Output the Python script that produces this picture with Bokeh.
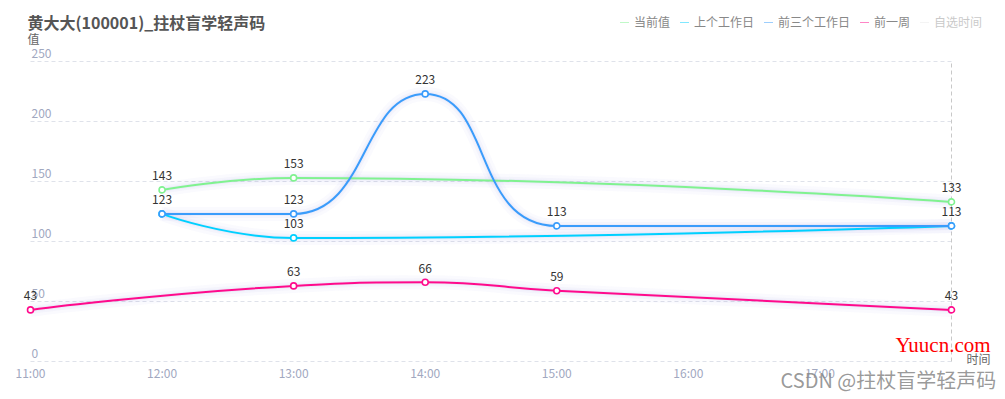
from math import hypot
from bokeh.plotting import figure
from bokeh.models import Range1d, Label, Legend, LegendItem
from bokeh.core.properties import value
from bokeh.embed import file_html
from bokeh.resources import INLINE

# ---------------- data ----------------
title_text = "黄大大(100001)_拄杖盲学轻声码"
x_tick_labels = ["11:00", "12:00", "13:00", "14:00", "15:00", "16:00", "17:00"]
y_ticks = [0, 50, 100, 150, 200, 250]

series_names = ["当前值", "上个工作日", "前三个工作日", "前一周", "自选时间"]
series_colors = ["#80f290", "#00d0ff", "#3a9cfb", "#ff0a8c", "#cccccc"]

cur_times = ["12:00", "13:00", "18:00"]
cur_vals = [143, 153, 133]
last_times = ["12:00", "13:00", "18:00"]
last_vals = [123, 103, 113]
three_times = ["12:00", "13:00", "14:00", "15:00", "18:00"]
three_vals = [123, 123, 223, 113, 113]
week_times = ["11:00", "13:00", "14:00", "15:00", "18:00"]
week_vals = [43, 63, 66, 59, 43]

CJK = "Noto Sans CJK SC"


def hours(t):
    h, m = t.split(":")
    return int(h) + int(m) / 60.0


# canvas / plotting-area geometry (pixels)
W, H = 998, 395
PL, PR, PT, PB = 30, 951, 61, 361          # plotting area edges on the canvas
X0, X1 = 11, 18
Y0, Y1 = 0, 250
KX = (PR - PL) / (X1 - X0)
KY = (PB - PT) / (Y1 - Y0)


def smooth_segments(xs, ys, smooth=0.5):
    """ECharts-style smoothed polyline -> cubic bezier segments (data units)."""
    px = [x * KX for x in xs]
    py = [y * KY for y in ys]
    n = len(px)
    segs = []
    cpx0, cpy0 = px[0], py[0]
    for i in range(1, n):
        x, y = px[i], py[i]
        prevX, prevY = px[i - 1], py[i - 1]
        if i == n - 1:
            cpx1, cpy1 = x, y
            nx0, ny0 = x, y
        else:
            nextX, nextY = px[i + 1], py[i + 1]
            vx = nextX - prevX
            vy = nextY - prevY
            lp = hypot(x - prevX, y - prevY)
            ln = hypot(nextX - x, nextY - y)
            ratio = ln / (ln + lp)
            nx0 = x + vx * smooth * ratio
            ny0 = y + vy * smooth * ratio
            nx0 = min(nx0, max(nextX, x)); ny0 = min(ny0, max(nextY, y))
            nx0 = max(nx0, min(nextX, x)); ny0 = max(ny0, min(nextY, y))
            vx = nx0 - x; vy = ny0 - y
            cpx1 = x - vx * lp / ln; cpy1 = y - vy * lp / ln
            cpx1 = min(cpx1, max(prevX, x)); cpy1 = min(cpy1, max(prevY, y))
            cpx1 = max(cpx1, min(prevX, x)); cpy1 = max(cpy1, min(prevY, y))
            vx = x - cpx1; vy = y - cpy1
            nx0 = x + vx * ln / lp; ny0 = y + vy * ln / lp
        segs.append((prevX / KX, prevY / KY, x / KX, y / KY,
                     cpx0 / KX, cpy0 / KY, cpx1 / KX, cpy1 / KY))
        cpx0, cpy0 = nx0, ny0
    cols = list(zip(*segs))
    return dict(x0=list(cols[0]), y0=list(cols[1]), x1=list(cols[2]), y1=list(cols[3]),
                cx0=list(cols[4]), cy0=list(cols[5]), cx1=list(cols[6]), cy1=list(cols[7]))


x_range = Range1d(X0 - PL / KX, X1 + (W - PR) / KX)
y_range = Range1d(Y0 - (H - PB) / KY, Y1 + PT / KY)

p = figure(width=W, height=H, output_backend="svg", toolbar_location=None,
           x_range=x_range, y_range=y_range,
           min_border=0, outline_line_color=None, background_fill_color="white")
p.xaxis.visible = False
p.yaxis.visible = False
p.grid.visible = False

# horizontal grid lines (dashed)
p.segment(x0=[X0] * len(y_ticks), x1=[X1] * len(y_ticks), y0=y_ticks, y1=y_ticks,
          line_color="#dfe2ea", line_dash="4 3", line_width=1)
# right-hand vertical dashed line at the end of the time axis
p.segment(x0=[X1], x1=[X1], y0=[Y0], y1=[Y1], line_color="#c8c8c8",
          line_dash="4 3", line_width=1)

# y labels inside the plot, above the gridlines
p.text(x=[X0] * len(y_ticks), y=y_ticks, text=[str(v) for v in y_ticks],
       text_align="left", text_baseline="alphabetic", x_offset=1, y_offset=-8,
       text_font_size="12px", text_color="#a1a8bf", text_font=value(CJK))

# x labels below the plot
p.text(x=[hours(t) for t in x_tick_labels], y=[Y0] * len(x_tick_labels), text=x_tick_labels,
       text_align="center", text_baseline="middle", y_offset=11,
       text_font_size="12px", text_color="#a1a8bf", text_font=value(CJK))

series = [
    (cur_times, cur_vals, series_colors[0]),
    (last_times, last_vals, series_colors[1]),
    (three_times, three_vals, series_colors[2]),
    (week_times, week_vals, series_colors[3]),
]

# soft glow under the lines
for times, vals, col in series:
    xs = [hours(t) for t in times]
    segs = smooth_segments(xs, vals)
    for lw, la in ((14, 0.03), (8, 0.04), (4, 0.05)):
        p.bezier(source=segs, x0="x0", y0="y0", x1="x1", y1="y1", cx0="cx0", cy0="cy0",
                 cx1="cx1", cy1="cy1", line_color="#5b6bd0", line_alpha=la, line_width=lw)

drawn = set()
for times, vals, col in series:
    xs = [hours(t) for t in times]
    segs = smooth_segments(xs, vals)
    p.bezier(source=segs, x0="x0", y0="y0", x1="x1", y1="y1", cx0="cx0", cy0="cy0",
             cx1="cx1", cy1="cy1", line_color=col, line_width=2)
    p.scatter(xs, vals, marker="circle", size=6, fill_color="white",
              line_color=col, line_width=1.6)
    lx, ly = [], []
    for xv, v in zip(xs, vals):
        if (xv, v) not in drawn:      # identical labels at the same spot are shown once
            drawn.add((xv, v))
            lx.append(xv)
            ly.append(v)
    p.text(lx, ly, text=[str(v) for v in ly], text_align="center",
           text_baseline="alphabetic", y_offset=-14, text_font_size="12px",
           text_color="#333333", text_font=value(CJK))

# legend (dotted icons; last series is switched off)
items = []
for name, col in zip(series_names, series_colors):
    r = p.line([X0 - 100, X0 - 99], [Y0 - 500, Y0 - 500], line_color=col,
               line_width=1, line_dash="1 1")
    if name == series_names[-1]:
        r.visible = False
    items.append(LegendItem(label=name, renderers=[r]))
legend = Legend(items=items, orientation="horizontal", location=(620, H - 30),
                padding=0, margin=0, spacing=10, glyph_width=9, glyph_height=12,
                label_standoff=5, label_height=12, label_text_font_size="12px",
                label_text_color="#888888", label_text_font=CJK,
                background_fill_alpha=0, border_line_alpha=0, click_policy="hide",
                inactive_fill_color="white", inactive_fill_alpha=0.55)
p.add_layout(legend, "center")

# texts (screen units: from the canvas' bottom-left)
p.add_layout(Label(x=27, y=H - 21.5, x_units="screen", y_units="screen", text=title_text,
                   text_font=CJK, text_font_size="16px", text_font_style="bold",
                   text_color="#555555", text_baseline="middle"))
p.add_layout(Label(x=27, y=H - 38, x_units="screen", y_units="screen", text="值",
                   text_font=CJK, text_font_size="12px", text_color="#666666",
                   text_baseline="middle"))
p.add_layout(Label(x=966, y=H - 358, x_units="screen", y_units="screen", text="时间",
                   text_font=CJK, text_font_size="12px", text_color="#666666",
                   text_baseline="middle"))
p.add_layout(Label(x=895, y=H - 344, x_units="screen", y_units="screen", text="Yuucn.com",
                   text_font="Liberation Serif", text_font_size="21px", text_color="#ff0000",
                   text_baseline="middle"))
p.add_layout(Label(x=780, y=H - 379, x_units="screen", y_units="screen",
                   text="CSDN @拄杖盲学轻声码",
                   text_font=CJK, text_font_size="20px", text_color="#888888", text_alpha=0.85,
                   text_baseline="middle"))

open("out.html", "w").write(file_html(p, INLINE))
